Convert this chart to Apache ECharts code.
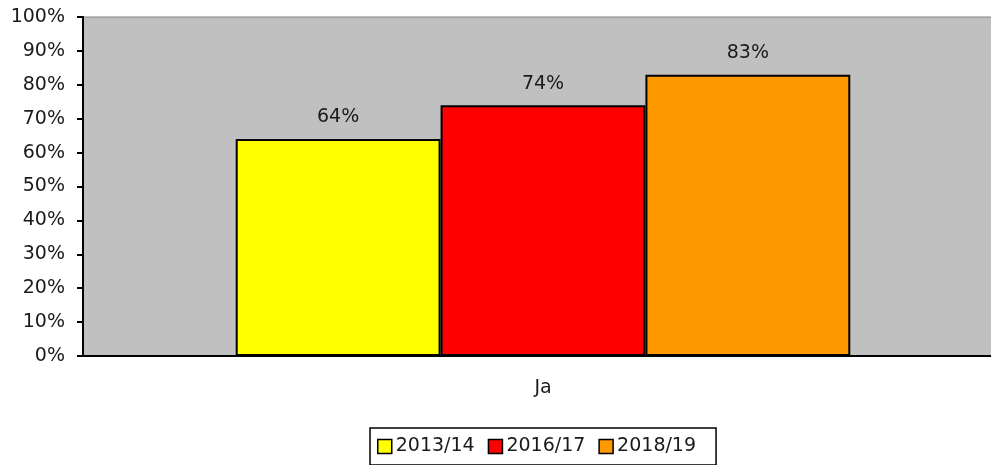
<!DOCTYPE html>
<html>
<head>
<meta charset="utf-8">
<script src="https://cdn.jsdelivr.net/npm/echarts@6/dist/echarts.min.js"></script>
<style>html,body{margin:0;padding:0;background:#fff;overflow:hidden}#c{width:1003px;height:465px}</style>
</head>
<body>
<div id="c"></div>
<script>
const categories = ['Ja'];
const seriesNames = ['2013/14', '2016/17', '2018/19'];
const values2013 = [64];
const values2016 = [74];
const values2018 = [83];
const yTicks = [0, 10, 20, 30, 40, 50, 60, 70, 80, 90, 100];
const colors = ['#FFFF00', '#FF0000', '#FF9900'];

const FONT = 'DejaVu Sans';
const allValues = [values2013, values2016, values2018];
const chart = echarts.init(document.getElementById('c'));
chart.setOption({
  animation: false,
  textStyle: { fontFamily: FONT },
  grid: {
    left: 83, top: 17, right: 0, bottom: 109,
    show: true, backgroundColor: '#C0C0C0', borderColor: '#808080', borderWidth: 1
  },
  legend: {
    data: seriesNames,
    left: 370, top: 428,
    padding: [9, 20, 9, 7],
    itemGap: 13,
    itemWidth: 14, itemHeight: 14,
    icon: 'rect',
    borderColor: '#000', borderWidth: 1.5,
    itemStyle: { borderColor: '#000', borderWidth: 1.5 },
    textStyle: { fontFamily: FONT, fontSize: 19, color: '#1a1a1a', padding: [0, 0, 0, -1] }
  },
  xAxis: {
    type: 'category', data: categories,
    axisLine: { lineStyle: { color: '#000', width: 2 } },
    axisTick: { show: false },
    axisLabel: { margin: 23, fontSize: 19, color: '#1a1a1a', fontFamily: FONT }
  },
  yAxis: {
    type: 'value', min: yTicks[0], max: yTicks[yTicks.length - 1], interval: 10,
    axisLine: { show: true, lineStyle: { color: '#000', width: 2 } },
    axisTick: { show: true, length: 6, lineStyle: { color: '#000', width: 2 } },
    splitLine: { show: false },
    axisLabel: { formatter: '{value}%', margin: 18, fontSize: 19, color: '#1a1a1a', fontFamily: FONT }
  },
  series: seriesNames.map((n, i) => ({
    name: n, type: 'bar', data: allValues[i],
    barGap: '0%', barCategoryGap: '33.2%',
    itemStyle: { color: colors[i], borderColor: '#000', borderWidth: 2 },
    label: { show: true, position: 'top', distance: 12, formatter: '{c}%', fontSize: 19, color: '#1a1a1a', fontFamily: FONT }
  }))
});
</script>
</body>
</html>
